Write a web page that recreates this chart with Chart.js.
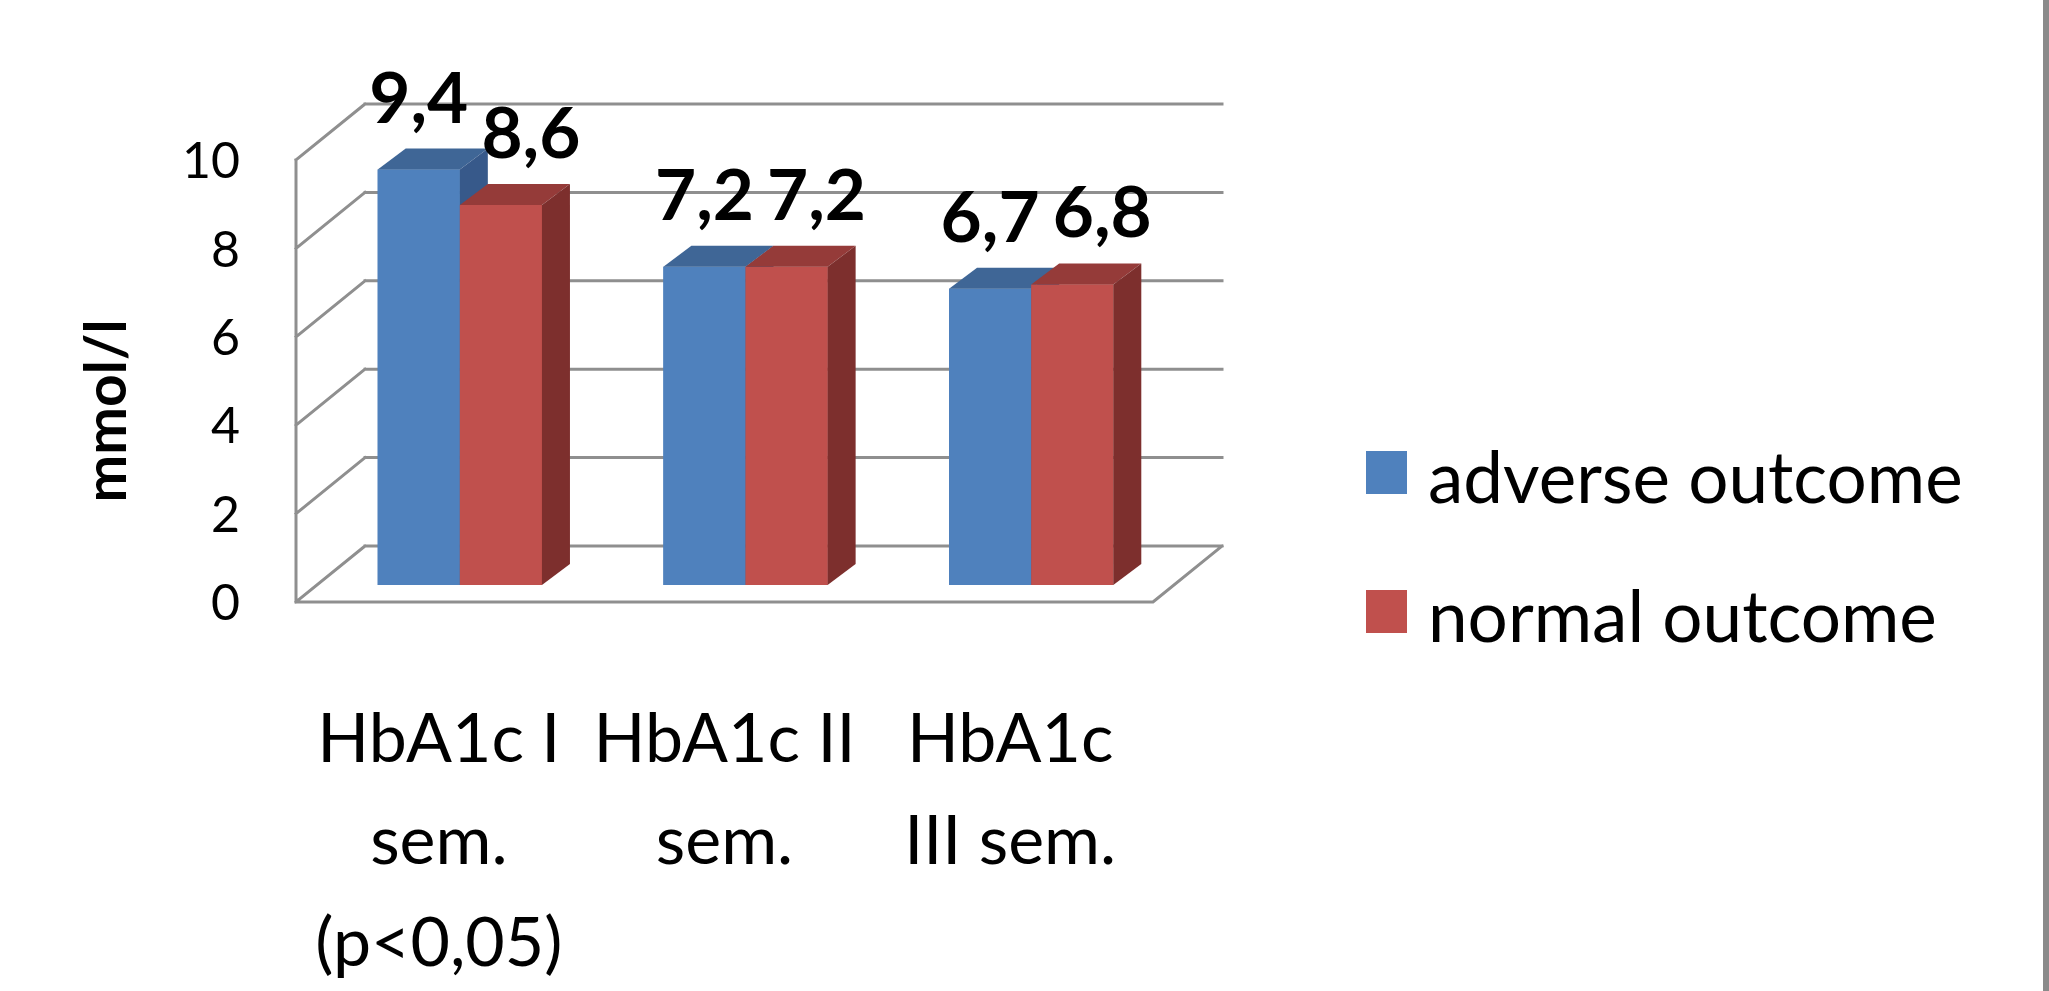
<!DOCTYPE html>
<html>
<head>
<meta charset="utf-8">
<title>HbA1c by trimester</title>
<script src="https://cdn.jsdelivr.net/npm/chart.js@4.4.1/dist/chart.umd.min.js"></script>
<style>
  html, body { margin: 0; padding: 0; background: #ffffff; overflow: hidden; }
  #wrap { position: relative; width: 2049px; height: 991px; }
</style>
</head>
<body>
<div id="wrap"><canvas id="chart"></canvas></div>
<script>
// ---- data ----
const categories = [
  ['HbA1c I', 'sem.', '(p<0,05)'],
  ['HbA1c II', 'sem.'],
  ['HbA1c', 'III sem.']
];
const seriesNames = ['adverse outcome', 'normal outcome'];
const adverseValues = [9.4, 7.2, 6.7];
const normalValues = [8.6, 7.2, 6.8];
const yTicks = [0, 2, 4, 6, 8, 10];
const yTitle = 'mmol/l';

// ---- look ----
const FONT = 'Lato, "Open Sans", sans-serif';
const frontColors = ['#4F81BD', '#C0504D'];
const topColors   = ['#3F6696', '#953B39'];
const sideColors  = ['#37598A', '#7D2F2D'];
const GRID = '#8f8f8f';
// oblique projection offsets, measured from the bar plane
const FRONT = { dx: -21, dy: 17 };   // front edge of the floor / side wall
const BACK  = { dx: 48,  dy: -39 };  // back wall
const DEPTH = { dx: 28,  dy: -21 };  // depth of each bar
const labelShift = [0, 30];          // value label horizontal nudge per series

const fmt = v => String(v).replace('.', ',');

function poly(ctx, pts, fill) {
  ctx.beginPath();
  ctx.moveTo(pts[0][0], pts[0][1]);
  for (let i = 1; i < pts.length; i++) ctx.lineTo(pts[i][0], pts[i][1]);
  ctx.closePath();
  ctx.fillStyle = fill;
  ctx.fill();
}

const box3d = {
  id: 'box3d',
  beforeDatasetsDraw(chart) {
    const { ctx, chartArea: a, scales: { y } } = chart;
    ctx.save();
    ctx.strokeStyle = GRID;
    ctx.lineWidth = 3;
    ctx.lineCap = 'square';
    const fx0 = a.left + FRONT.dx, fx1 = a.right + FRONT.dx;
    const bx0 = a.left + BACK.dx,  bx1 = a.right + BACK.dx;
    ctx.beginPath();
    yTicks.forEach(v => {
      const p = y.getPixelForValue(v);
      // back wall line
      ctx.moveTo(bx0, p + BACK.dy); ctx.lineTo(bx1, p + BACK.dy);
      // side wall diagonal
      ctx.moveTo(fx0, p + FRONT.dy); ctx.lineTo(bx0, p + BACK.dy);
    });
    const top = y.getPixelForValue(yTicks[yTicks.length - 1]);
    const zero = y.getPixelForValue(0);
    // front vertical edge of the side wall
    ctx.moveTo(fx0, top + FRONT.dy); ctx.lineTo(fx0, zero + FRONT.dy);
    // floor front edge and right edge
    ctx.moveTo(fx0, zero + FRONT.dy); ctx.lineTo(fx1, zero + FRONT.dy);
    ctx.lineTo(bx1, zero + BACK.dy);
    ctx.stroke();
    ctx.restore();
  },
  afterDatasetsDraw(chart) {
    const { ctx } = chart;
    ctx.save();
    // series left to right: each bar's front (library element), then its top and side
    chart.data.datasets.forEach((ds, di) => {
      chart.getDatasetMeta(di).data.forEach(bar => {
        bar.draw(ctx, chart.chartArea);
        const p = bar.getProps(['x', 'y', 'base', 'width'], true);
        const l = p.x - p.width / 2, r = p.x + p.width / 2;
        poly(ctx, [[l, p.y], [r, p.y], [r + DEPTH.dx, p.y + DEPTH.dy], [l + DEPTH.dx, p.y + DEPTH.dy]], topColors[di]);
        poly(ctx, [[r, p.y], [r + DEPTH.dx, p.y + DEPTH.dy], [r + DEPTH.dx, p.base + DEPTH.dy], [r, p.base]], sideColors[di]);
      });
    });
    // value labels
    ctx.fillStyle = '#000';
    ctx.font = 'bold 71px ' + FONT;
    ctx.textAlign = 'center';
    ctx.textBaseline = 'alphabetic';
    chart.data.datasets.forEach((ds, di) => {
      chart.getDatasetMeta(di).data.forEach((bar, i) => {
        ctx.fillText(fmt(ds.data[i]), bar.x + labelShift[di], bar.y - 47);
      });
    });
    ctx.restore();
  },
  afterDraw(chart) {
    const { ctx, chartArea: a, scales: { x, y } } = chart;
    ctx.save();
    ctx.fillStyle = '#000';
    // value axis tick labels on the front edge
    ctx.font = '50px ' + FONT;
    ctx.textAlign = 'right';
    ctx.textBaseline = 'middle';
    yTicks.forEach(v => ctx.fillText(String(v), a.left + FRONT.dx - 56, y.getPixelForValue(v) + FRONT.dy + 2));
    // category labels
    ctx.font = '68px ' + FONT;
    ctx.textAlign = 'center';
    ctx.textBaseline = 'alphabetic';
    const floorY = y.getPixelForValue(0) + FRONT.dy;
    categories.forEach((lines, i) => {
      const cx = x.getPixelForValue(i) + FRONT.dx;
      lines.forEach((t, k) => ctx.fillText(t, cx, floorY + 160 + k * 102));
    });
    // axis title
    ctx.save();
    ctx.translate(108, 411);
    ctx.rotate(-Math.PI / 2);
    ctx.font = 'bold 57px ' + FONT;
    ctx.textBaseline = 'middle';
    ctx.fillText(yTitle, 0, 0);
    ctx.restore();
    // legend
    ctx.font = '71px ' + FONT;
    ctx.textAlign = 'left';
    chart.data.datasets.forEach((ds, di) => {
      const top = 451 + di * 139;
      ctx.fillStyle = frontColors[di];
      ctx.fillRect(1366, top, 41, 43);
      ctx.fillStyle = '#000';
      ctx.fillText(ds.label, 1428, top + 52);
    });
    // frame edge on the right
    ctx.fillStyle = '#8a8a8a';
    ctx.fillRect(2043, 0, 6, 991);
    ctx.restore();
  }
};

function build() {
  new Chart(document.getElementById('chart'), {
    type: 'bar',
    data: {
      labels: categories,
      datasets: [
        { label: seriesNames[0], data: adverseValues, backgroundColor: frontColors[0], borderWidth: 0 },
        { label: seriesNames[1], data: normalValues, backgroundColor: frontColors[1], borderWidth: 0 }
      ]
    },
    options: {
      responsive: true,
      maintainAspectRatio: false,
      animation: false,
      events: [],
      layout: { padding: { left: 317, right: 875, top: 143, bottom: 406 } },
      datasets: { bar: { categoryPercentage: 0.575, barPercentage: 1.0 } },
      scales: {
        x: { display: false, offset: true },
        y: { display: false, min: 0, max: 10 }
      },
      plugins: { legend: { display: false }, tooltip: { enabled: false } }
    },
    plugins: [box3d]
  });
}

Promise.all([
  document.fonts.load('68px Lato'),
  document.fonts.load('bold 68px Lato')
]).then(build, build);
</script>
</body>
</html>
